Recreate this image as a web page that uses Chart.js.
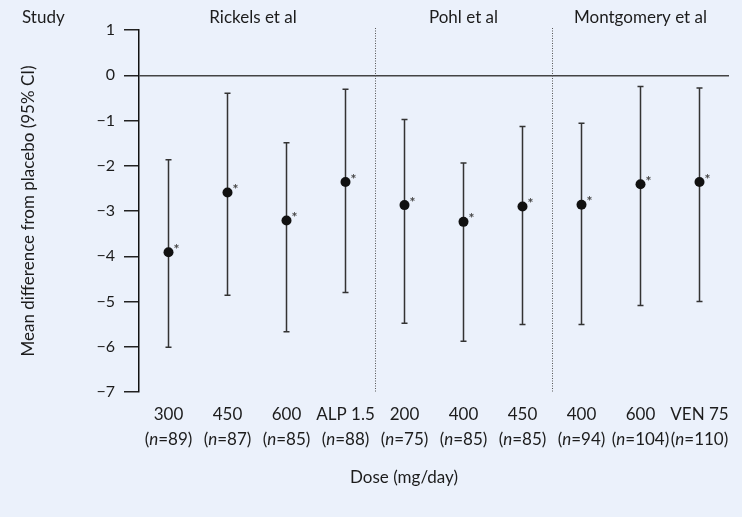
<!DOCTYPE html>
<html>
<head>
<meta charset="utf-8">
<title>Mean difference from placebo by dose</title>
<script src="https://cdn.jsdelivr.net/npm/chart.js@4/dist/chart.umd.min.js"></script>
<style>
  html, body { margin: 0; padding: 0; background: #ebf1fb; }
  #wrap { width: 742px; height: 517px; }
</style>
</head>
<body>
<div id="wrap"><canvas id="doseChart" width="742" height="517"></canvas></div>
<script>
// dose groups, left to right
const doses = ["300", "450", "600", "ALP 1.5", "200", "400", "450", "400", "600", "VEN 75"];
const nCounts = [89, 87, 85, 88, 75, 85, 85, 94, 104, 110];
const studies = ["Rickels et al", "Pohl et al", "Montgomery et al"];
const studyOf = [0, 0, 0, 0, 1, 1, 1, 2, 2, 2];

// mean difference and 95% CI
const meanDiff = [-3.91, -2.59, -3.21, -2.36, -2.87, -3.24, -2.90, -2.86, -2.41, -2.36];
const ciLow = [-6.01, -4.86, -5.67, -4.80, -5.48, -5.88, -5.51, -5.51, -5.09, -5.00];
const ciHigh = [-1.87, -0.40, -1.49, -0.31, -0.98, -1.94, -1.13, -1.06, -0.25, -0.28];

const yMin = -7, yMax = 1;

const FONT = "Lato, 'Liberation Sans', sans-serif";
const INK = "#1c1c1c";

// page background
const bgPlugin = {
    id: "bg",
    beforeDraw(chart) {
        const ctx = chart.ctx;
        ctx.save();
        ctx.fillStyle = "#ebf1fb";
        ctx.fillRect(0, 0, chart.width, chart.height);
        ctx.restore();
    }
};

// dotted separators between studies, study headers, error bars
const studyPlugin = {
    id: "studies",
    beforeDatasetsDraw(chart) {
        const ctx = chart.ctx;
        const x = chart.scales.x;
        const area = chart.chartArea;
        ctx.save();
        ctx.strokeStyle = "#555";
        ctx.lineWidth = 1;
        ctx.setLineDash([1, 1.5]);
        for (let i = 1; i < studyOf.length; i++) {
            if (studyOf[i] !== studyOf[i - 1]) {
                const px = Math.round((x.getPixelForValue(i - 1) + x.getPixelForValue(i)) / 2) + 0.5;
                ctx.beginPath();
                ctx.moveTo(px, area.top - 2);
                ctx.lineTo(px, area.bottom);
                ctx.stroke();
            }
        }
        ctx.setLineDash([]);

        ctx.fillStyle = INK;
        ctx.font = "17px " + FONT;
        ctx.textAlign = "center";
        ctx.textBaseline = "middle";
        studies.forEach((name, s) => {
            const idx = studyOf.map((v, i) => v === s ? i : -1).filter(i => i >= 0);
            const cx = (x.getPixelForValue(idx[0]) + x.getPixelForValue(idx[idx.length - 1])) / 2;
            ctx.fillText(name, s === 0 ? cx - 4 : cx, 18);
        });
        ctx.textAlign = "left";
        ctx.fillText("Study", 22, 18);

        // x axis title
        ctx.textAlign = "center";
        ctx.fillText("Dose (mg/day)", 404, 478);

        // error bars
        const y = chart.scales.y;
        ctx.strokeStyle = "#333";
        ctx.lineWidth = 1.5;
        meanDiff.forEach((m, i) => {
            const px = x.getPixelForValue(i);
            const top = y.getPixelForValue(ciHigh[i]);
            const bot = y.getPixelForValue(ciLow[i]);
            ctx.beginPath();
            ctx.moveTo(px, top);
            ctx.lineTo(px, bot);
            ctx.moveTo(px - 3, top);
            ctx.lineTo(px + 3, top);
            ctx.moveTo(px - 3, bot);
            ctx.lineTo(px + 3, bot);
            ctx.stroke();
        });
        ctx.restore();
    },
    afterDatasetsDraw(chart) {
        const ctx = chart.ctx;
        const x = chart.scales.x;
        const y = chart.scales.y;
        ctx.save();
        // significance markers
        ctx.fillStyle = "#444";
        ctx.font = "bold 14px " + FONT;
        ctx.textAlign = "center";
        ctx.textBaseline = "middle";
        meanDiff.forEach((m, i) => {
            ctx.fillText("*", x.getPixelForValue(i) + 8, y.getPixelForValue(m) - 3);
        });

        // sample sizes under the dose labels, italic n
        ctx.fillStyle = INK;
        const up = "17px " + FONT;
        const it = "italic 17px " + FONT;
        nCounts.forEach((n, i) => {
            const parts = [["(", up], ["n", it], ["=" + n + ")", up]];
            let w = 0;
            parts.forEach(p => { ctx.font = p[1]; w += ctx.measureText(p[0]).width; });
            let cx = x.getPixelForValue(i) - w / 2;
            ctx.textAlign = "left";
            parts.forEach(p => {
                ctx.font = p[1];
                ctx.fillText(p[0], cx, 440);
                cx += ctx.measureText(p[0]).width;
            });
        });
        ctx.restore();
    }
};

new Chart(document.getElementById("doseChart"), {
    type: "line",
    data: {
        labels: doses,
        datasets: [{
            data: meanDiff,
            showLine: false,
            pointRadius: 5,
            pointHoverRadius: 5,
            pointBackgroundColor: "#111",
            pointBorderColor: "#111",
            pointBorderWidth: 0
        }]
    },
    options: {
        responsive: false,
        animation: false,
        devicePixelRatio: 1,
        layout: { padding: { top: 30, right: 13, left: 0, bottom: 0 } },
        plugins: {
            legend: { display: false },
            tooltip: { enabled: false }
        },
        scales: {
            x: {
                type: "category",
                offset: true,
                grid: { display: false, drawTicks: false },
                border: { display: false },
                ticks: {
                    color: INK,
                    font: { family: FONT, size: 17 },
                    padding: 12,
                    autoSkip: false,
                    maxRotation: 0
                },
                afterFit(s) { s.height = 125; }
            },
            y: {
                min: yMin,
                max: yMax,
                ticks: {
                    stepSize: 1,
                    color: INK,
                    font: { family: FONT, size: 16 },
                    padding: 9,
                    callback: v => v < 0 ? "\u2212" + Math.abs(v) : String(v)
                },
                grid: {
                    drawTicks: true,
                    tickLength: 15,
                    tickColor: "#222",
                    tickWidth: 1.5,
                    lineWidth: 1.5,
                    color: c => c.tick && c.tick.value === 0 ? "#444" : "rgba(0,0,0,0)"
                },
                border: { display: true, color: "#111", width: 1.5 },
                title: {
                    display: true,
                    text: "Mean difference from placebo (95% CI)",
                    color: INK,
                    font: { family: FONT, size: 17 },
                    padding: { top: 18, bottom: 0 }
                },
                afterFit(s) { s.width = 139; }
            }
        }
    },
    plugins: [bgPlugin, studyPlugin]
});
</script>
</body>
</html>
